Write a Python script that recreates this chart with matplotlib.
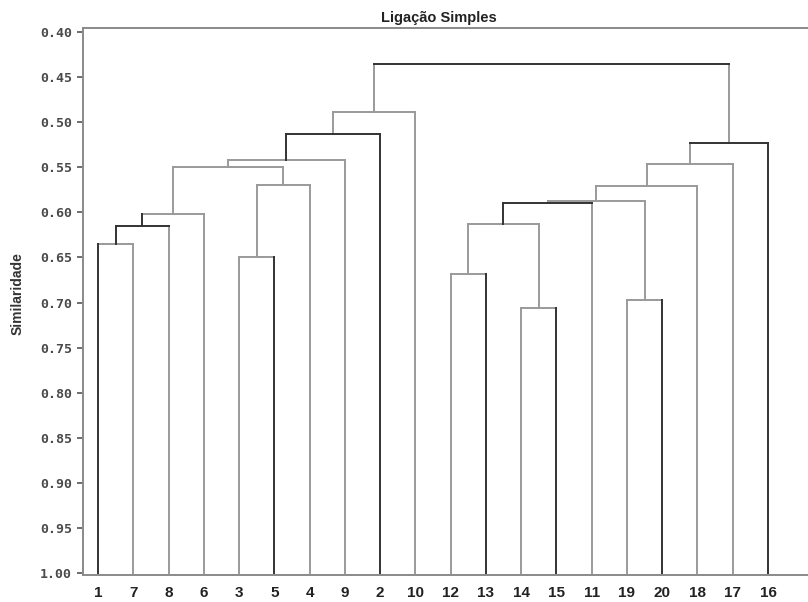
import matplotlib
matplotlib.use("Agg")
import matplotlib.pyplot as plt

# ---- data ----
leaf_order = [1, 7, 8, 6, 3, 5, 4, 9, 2, 10, 12, 13, 14, 15, 11, 19, 20, 18, 17, 16]
leaf_level = 1.00
# merges: children are leaf labels (int) or earlier merge ids ("m<k>")
merge_left = [1, "m0", "m1", 3, "m3", "m2", "m5", "m6", "m7",
              12, 14, "m9", "m11", 19, "m12", "m14", "m15", "m16", "m8"]
merge_right = [7, 8, 6, 5, 4, "m4", 9, 2, 10,
               13, 15, "m10", 11, 20, "m13", 18, 17, 16, "m17"]
merge_height = [0.635, 0.615, 0.602, 0.650, 0.570, 0.550, 0.542, 0.513, 0.489,
                0.668, 0.706, 0.613, 0.590, 0.697, 0.587, 0.571, 0.546, 0.523, 0.435]
y_ticks = [0.40, 0.45, 0.50, 0.55, 0.60, 0.65, 0.70, 0.75, 0.80, 0.85, 0.90, 0.95, 1.00]

# ---- style ----
GRAY = "#9a9a9a"
DARK = "#333333"
LW = 1.4
dark_leaves = {1, 5, 2, 13, 15, 20, 16}
dark_horiz = {1, 7, 12, 17, 18}
dark_node_vert = {0, 1, 6, 11}

W, H = 808, 602
fig = plt.figure(figsize=(W / 100, H / 100), dpi=100)
ax_left, ax_right, ax_top, ax_bottom = 83, 808, 28, 575
ax = fig.add_axes([ax_left / W, 1 - ax_bottom / H,
                   (ax_right - ax_left) / W, (ax_bottom - ax_top) / H])

# positions
xpos = {lab: i for i, lab in enumerate(leaf_order)}
ypos = {lab: leaf_level for lab in leaf_order}
parent = {}
for k in range(len(merge_height)):
    a, b = merge_left[k], merge_right[k]
    key = "m%d" % k
    xpos[key] = (xpos[a] + xpos[b]) / 2
    ypos[key] = merge_height[k]
    parent[a] = key
    parent[b] = key

# verticals from each node/leaf up to its parent
for node, par in parent.items():
    if isinstance(node, int):
        col = DARK if node in dark_leaves else GRAY
    else:
        col = DARK if int(node[1:]) in dark_node_vert else GRAY
    ax.plot([xpos[node], xpos[node]], [ypos[node], ypos[par]], color=col,
            lw=LW, solid_capstyle="projecting", zorder=2 if col == GRAY else 3)

# horizontals
for k in range(len(merge_height)):
    a, b = merge_left[k], merge_right[k]
    col = DARK if k in dark_horiz else GRAY
    ax.plot([xpos[a], xpos[b]], [merge_height[k], merge_height[k]], color=col,
            lw=LW, solid_capstyle="projecting", zorder=2 if col == GRAY else 3)

px_per_leaf = 35.26
ax.set_xlim(-(98 - ax_left) / px_per_leaf, (ax_right - 98) / px_per_leaf)
ax.set_ylim(1.002, 0.3956)

ax.set_yticks(y_ticks)
ax.set_yticklabels(["%.2f" % v for v in y_ticks],
                   fontfamily="DejaVu Sans Mono", fontweight="bold",
                   fontsize=9.5, color="#4a4a4a")
ax.tick_params(axis="y", length=4, width=1.2, color="#555555", pad=4)

ax.set_xticks(range(len(leaf_order)))
ax.set_xticklabels([str(v) for v in leaf_order], fontfamily="Liberation Sans",
                   fontweight="bold", fontsize=11, color="#222222")
ax.tick_params(axis="x", length=0, pad=8)

for side in ["left", "bottom", "top"]:
    ax.spines[side].set_color("#8a8a8a")
    ax.spines[side].set_linewidth(1.4)
ax.spines["right"].set_visible(False)

fig.text(439 / W, 1 - 18 / H, "Ligação Simples", ha="center", va="center",
         fontfamily="Liberation Sans", fontweight="bold", fontsize=10.5, color="#222222")
fig.text(18 / W, 1 - 294 / H, "Similaridade", ha="center", va="center", rotation=90,
         fontfamily="Liberation Sans", fontweight="bold", fontsize=10, color="#333333")

fig.savefig("out.png", dpi=100)
